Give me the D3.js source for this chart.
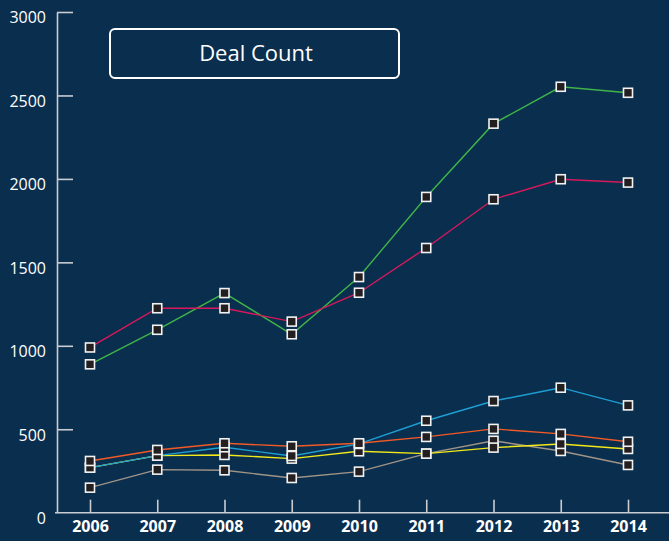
<!DOCTYPE html>
<html>
<head>
<meta charset="utf-8">
<script src="https://cdn.jsdelivr.net/npm/d3@7"></script>
<style>
  html, body { margin: 0; padding: 0; background: #0a2e4e; }
  svg { display: block; font-family: "Open Sans", "Noto Sans", sans-serif; }
</style>
</head>
<body>
<div id="chart"></div>
<script>
// Data
const years = ['2006', '2007', '2008', '2009', '2010', '2011', '2012', '2013', '2014'];
const yTicks = [0, 500, 1000, 1500, 2000, 2500, 3000];

const pinkSeries   = [990, 1225, 1225, 1145, 1318, 1586, 1878, 1998, 1978];
const greenSeries  = [889, 1096, 1316, 1069, 1412, 1892, 2331, 2552, 2516];
const blueSeries   = [270, 342, 392, 340, 412, 551, 669, 749, 643];
const orangeSeries = [310, 376, 416, 398, 416, 454, 502, 472, 425];
const yellowSeries = [270, 342, 346, 324, 368, 354, 390, 412, 382];
const graySeries   = [150, 258, 254, 208, 246, 354, 431, 370, 286];

const series = [
    { name: 'gray',   color: '#a09488', values: graySeries },
    { name: 'yellow', color: '#f2e81a', values: yellowSeries },
    { name: 'blue',   color: '#1e9fd4', values: blueSeries },
    { name: 'orange', color: '#f15a24', values: orangeSeries },
    { name: 'green',  color: '#3fb449', values: greenSeries },
    { name: 'pink',   color: '#d7195b', values: pinkSeries }
];

const width = 669;
const height = 541;
const axisColor = '#c9cdd2';
const fontFamily = '"Open Sans", "Noto Sans", sans-serif';

const svg = d3.select('#chart')
    .append('svg')
    .attr('width', width)
    .attr('height', height)
    .attr('viewBox', `0 0 ${width} ${height}`);

svg.append('rect')
    .attr('width', width)
    .attr('height', height)
    .attr('fill', '#0a2e4e');

// Scales
const x = d3.scalePoint()
    .domain(years)
    .range([90, 628]);

const y = d3.scaleLinear()
    .domain([0, 3000])
    .range([512.7, 12]);

const axisX = 57;

// Y axis (ticks point inward, labels on the left)
const yAxis = svg.append('g')
    .attr('transform', `translate(${axisX},0)`)
    .call(d3.axisLeft(y)
        .tickValues(yTicks)
        .tickFormat(d3.format('d'))
        .tickSizeInner(-16)
        .tickSizeOuter(0)
        .tickPadding(11))
    .attr('font-family', fontFamily);

yAxis.select('.domain').attr('stroke', axisColor).attr('stroke-width', 1.6);
yAxis.selectAll('.tick line')
    .attr('stroke', axisColor)
    .attr('stroke-width', 1.6)
    .attr('display', d => d === 0 ? 'none' : null);
yAxis.selectAll('.tick text')
    .attr('fill', '#ffffff')
    .attr('dy', '0.68em')
    .style('font-size', '16px');

// X axis
svg.append('line')
    .attr('x1', 55)
    .attr('x2', width)
    .attr('y1', y(0))
    .attr('y2', y(0))
    .attr('stroke', axisColor)
    .attr('stroke-width', 1.6);

const xAxis = svg.append('g')
    .attr('transform', `translate(0,${y(0)})`)
    .call(d3.axisBottom(x)
        .tickSizeInner(-13)
        .tickSizeOuter(0)
        .tickPadding(8))
    .attr('font-family', fontFamily);

xAxis.select('.domain').remove();
xAxis.selectAll('.tick line')
    .attr('stroke', axisColor)
    .attr('stroke-width', 1.6);
xAxis.selectAll('.tick text')
    .attr('fill', '#ffffff')
    .style('font-size', '16px')
    .style('font-weight', '700');

// Lines
const line = d3.line()
    .x((d, i) => x(years[i]))
    .y(d => y(d));

svg.append('g')
    .selectAll('path')
    .data(series)
    .join('path')
    .attr('d', d => line(d.values))
    .attr('fill', 'none')
    .attr('stroke', d => d.color)
    .attr('stroke-width', 1.4);

// Square markers on top of all lines
const markerSize = 9;
svg.append('g')
    .selectAll('g')
    .data(series)
    .join('g')
    .selectAll('rect')
    .data(d => d.values)
    .join('rect')
    .attr('x', (d, i) => x(years[i]) - markerSize / 2)
    .attr('y', d => y(d) - markerSize / 2)
    .attr('width', markerSize)
    .attr('height', markerSize)
    .attr('fill', '#231f20')
    .attr('stroke', '#f2f2f2')
    .attr('stroke-width', 1.6);

// Title box
svg.append('rect')
    .attr('x', 110)
    .attr('y', 29)
    .attr('width', 289)
    .attr('height', 49)
    .attr('rx', 5)
    .attr('fill', 'none')
    .attr('stroke', '#ffffff')
    .attr('stroke-width', 2);

svg.append('text')
    .attr('x', 256)
    .attr('y', 61)
    .attr('text-anchor', 'middle')
    .attr('fill', '#ffffff')
    .style('font-size', '22px')
    .text('Deal Count');
</script>
</body>
</html>
